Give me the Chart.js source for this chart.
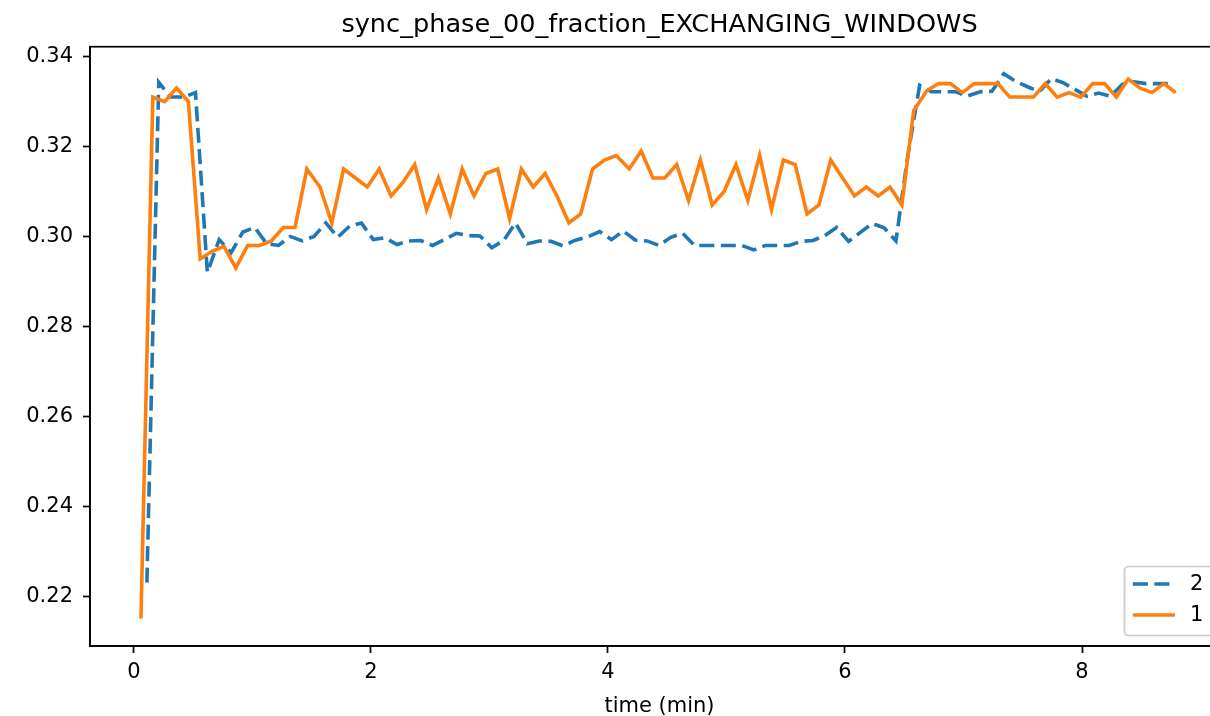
<!DOCTYPE html>
<html>
<head>
<meta charset="utf-8">
<script src="https://cdn.jsdelivr.net/npm/chart.js@4"></script>
<style>
  html, body { margin: 0; padding: 0; background: #fff; overflow: hidden; }
  #wrap { width: 1240px; height: 716px; }
</style>
</head>
<body>
<div id="wrap"><canvas id="syncChart" width="1240" height="716"></canvas></div>
<script>
// sampling times (min) for each run
const timesRun2 = [
  0.11, 0.21, 0.31, 0.42, 0.52, 0.62, 0.72, 0.82, 0.92, 1.02,
  1.12, 1.22, 1.32, 1.42, 1.52, 1.62, 1.72, 1.82, 1.92, 2.02,
  2.12, 2.22, 2.32, 2.42, 2.52, 2.62, 2.72, 2.82, 2.92, 3.02,
  3.12, 3.22, 3.32, 3.42, 3.52, 3.62, 3.72, 3.83, 3.93, 4.03,
  4.13, 4.23, 4.33, 4.43, 4.53, 4.63, 4.73, 4.83, 4.93, 5.03,
  5.13, 5.23, 5.33, 5.43, 5.53, 5.63, 5.73, 5.83, 5.93, 6.03,
  6.13, 6.23, 6.33, 6.43, 6.53, 6.63, 6.73, 6.83, 6.93, 7.03,
  7.14, 7.24, 7.34, 7.44, 7.54, 7.64, 7.74, 7.84, 7.94, 8.04,
  8.14, 8.24, 8.34, 8.44, 8.54, 8.64, 8.74
];
const valuesRun2 = [
  0.223, 0.3343, 0.331, 0.331, 0.332, 0.292, 0.2993, 0.2964, 0.301, 0.302,
  0.2984, 0.298, 0.300, 0.299, 0.300, 0.303, 0.2998, 0.3023, 0.303, 0.2993,
  0.2997, 0.2982, 0.299, 0.2991, 0.298, 0.2993, 0.3007, 0.3002, 0.3001, 0.2975,
  0.2991, 0.303, 0.2984, 0.299, 0.2989, 0.2979, 0.2991, 0.2999, 0.3011, 0.2993,
  0.3012, 0.2992, 0.299, 0.298, 0.2998, 0.3007, 0.298, 0.298, 0.298, 0.298,
  0.298, 0.297, 0.298, 0.298, 0.298, 0.2989, 0.2991, 0.3002, 0.302, 0.2989,
  0.3009, 0.3029, 0.3019, 0.299, 0.318, 0.3336, 0.3322, 0.3322, 0.3322, 0.3312,
  0.3322, 0.3323, 0.3362, 0.3345, 0.3333, 0.3322, 0.3351, 0.3342, 0.3327, 0.3312,
  0.3319, 0.3312, 0.3338, 0.3344, 0.334, 0.334, 0.334
];

const timesRun1 = [
  0.06, 0.16, 0.26, 0.36, 0.46, 0.56, 0.66, 0.76, 0.86, 0.96,
  1.06, 1.16, 1.26, 1.36, 1.46, 1.57, 1.67, 1.77, 1.87, 1.97,
  2.07, 2.17, 2.27, 2.37, 2.47, 2.57, 2.67, 2.77, 2.87, 2.97,
  3.07, 3.17, 3.27, 3.37, 3.47, 3.57, 3.67, 3.77, 3.87, 3.97,
  4.07, 4.18, 4.28, 4.38, 4.48, 4.58, 4.68, 4.78, 4.88, 4.98,
  5.08, 5.18, 5.28, 5.38, 5.48, 5.58, 5.68, 5.78, 5.88, 5.98,
  6.08, 6.18, 6.28, 6.38, 6.48, 6.58, 6.69, 6.79, 6.89, 6.99,
  7.09, 7.19, 7.29, 7.39, 7.49, 7.59, 7.69, 7.79, 7.89, 7.99,
  8.09, 8.19, 8.29, 8.39, 8.49, 8.59, 8.69, 8.79
];
const valuesRun1 = [
  0.215, 0.331, 0.330, 0.333, 0.330, 0.295, 0.2967, 0.2978, 0.293, 0.298,
  0.298, 0.299, 0.302, 0.302, 0.315, 0.311, 0.303, 0.315, 0.313, 0.311,
  0.315, 0.309, 0.312, 0.316, 0.306, 0.313, 0.305, 0.315, 0.309, 0.314,
  0.315, 0.304, 0.315, 0.311, 0.314, 0.309, 0.303, 0.305, 0.315, 0.317,
  0.318, 0.315, 0.319, 0.313, 0.313, 0.316, 0.308, 0.317, 0.307, 0.310,
  0.316, 0.308, 0.318, 0.306, 0.317, 0.316, 0.305, 0.307, 0.317, 0.313,
  0.309, 0.311, 0.309, 0.311, 0.307, 0.328, 0.3324, 0.334, 0.334, 0.332,
  0.334, 0.334, 0.334, 0.331, 0.331, 0.331, 0.334, 0.331, 0.332, 0.331,
  0.334, 0.334, 0.331, 0.335, 0.333, 0.332, 0.334, 0.332
];

const seriesLabels = ['2', '1'];
const xTicksStep = 2;
const yTicksStep = 0.02;

const FONT = 'DejaVu Sans';

const toPoints = (xs, ys) => ys.map((v, i) => ({ x: xs[i], y: v }));

// full box around the plot, like matplotlib spines
const frameBox = {
  id: 'frameBox',
  afterDatasetsDraw(chart) {
    const { ctx, chartArea: a } = chart;
    ctx.save();
    ctx.strokeStyle = '#000';
    ctx.lineWidth = 1.7;
    ctx.strokeRect(a.left, a.top, a.right - a.left, a.bottom - a.top);
    ctx.restore();
  }
};

// matplotlib-like legend in the lower right corner
const cornerLegend = {
  id: 'cornerLegend',
  afterDraw(chart) {
    const { ctx, chartArea: a } = chart;
    const fs = 21;
    const pad = 0.5 * fs;
    const w = 94, h = 69;
    const x0 = a.right - pad - w;
    const y0 = a.bottom - pad - h;
    ctx.save();
    ctx.beginPath();
    ctx.roundRect(x0, y0, w, h, 4);
    ctx.fillStyle = 'rgba(255,255,255,0.8)';
    ctx.fill();
    ctx.strokeStyle = '#cccccc';
    ctx.lineWidth = 1.7;
    ctx.stroke();
    chart.data.datasets.forEach((ds, i) => {
      const cy = y0 + 17.5 + i * 31;
      const hx = x0 + 8.4;
      ctx.beginPath();
      ctx.strokeStyle = ds.borderColor;
      ctx.lineWidth = ds.borderWidth;
      ctx.setLineDash(ds.borderDash || []);
      ctx.moveTo(hx, cy);
      ctx.lineTo(hx + 42, cy);
      ctx.stroke();
      ctx.setLineDash([]);
      ctx.fillStyle = '#000';
      ctx.font = fs + 'px "' + FONT + '"';
      ctx.textBaseline = 'middle';
      ctx.textAlign = 'left';
      ctx.fillText(ds.label, hx + 42 + 15, cy + 1);
    });
    ctx.restore();
  }
};

const ctx = document.getElementById('syncChart').getContext('2d');
const syncChart = new Chart(ctx, {
  type: 'line',
  data: {
    datasets: [
      {
        label: seriesLabels[0],
        data: toPoints(timesRun2, valuesRun2),
        borderColor: '#1f77b4',
        borderWidth: 3.6,
        borderDash: [15, 6.5],
        pointRadius: 0,
        tension: 0,
        fill: false,
        order: 1
      },
      {
        label: seriesLabels[1],
        data: toPoints(timesRun1, valuesRun1),
        borderColor: '#ff7f0e',
        borderWidth: 3.6,
        pointRadius: 0,
        tension: 0,
        fill: false,
        order: 0
      }
    ]
  },
  options: {
    responsive: false,
    animation: false,
    layout: { padding: { left: 0, right: 11, top: 0, bottom: 0 } },
    plugins: {
      legend: { display: false },
      tooltip: { enabled: false },
      title: {
        display: true,
        text: 'sync_phase_00_fraction_EXCHANGING_WINDOWS',
        color: '#000',
        fullSize: false,
        font: { family: FONT, size: 25.6, weight: 'normal', lineHeight: 1.2 },
        padding: { top: 10, bottom: 6 }
      }
    },
    scales: {
      x: {
        type: 'linear',
        min: -0.37,
        max: 9.24,
        afterFit: (scale) => { scale.height = 70; },
        border: { display: true, color: '#000', width: 1.7 },
        grid: { drawOnChartArea: false, tickLength: 7, tickWidth: 1.7, tickColor: '#000' },
        ticks: {
          stepSize: xTicksStep,
          includeBounds: false,
          color: '#000',
          padding: 7,
          maxRotation: 0,
          font: { family: FONT, size: 21 },
          callback: (v) => String(Math.round(v))
        },
        title: {
          display: true,
          text: 'time (min)',
          color: '#000',
          font: { family: FONT, size: 21 },
          padding: { top: 0, bottom: -3 }
        }
      },
      y: {
        type: 'linear',
        min: 0.2089,
        max: 0.3422,
        afterFit: (scale) => { scale.width = 90; },
        border: { display: true, color: '#000', width: 1.7 },
        grid: { drawOnChartArea: false, tickLength: 7, tickWidth: 1.7, tickColor: '#000' },
        ticks: {
          stepSize: yTicksStep,
          includeBounds: false,
          color: '#000',
          padding: 10,
          font: { family: FONT, size: 21 },
          callback: (v) => Number(v).toFixed(2)
        }
      }
    }
  },
  plugins: [frameBox, cornerLegend]
});
</script>
</body>
</html>
